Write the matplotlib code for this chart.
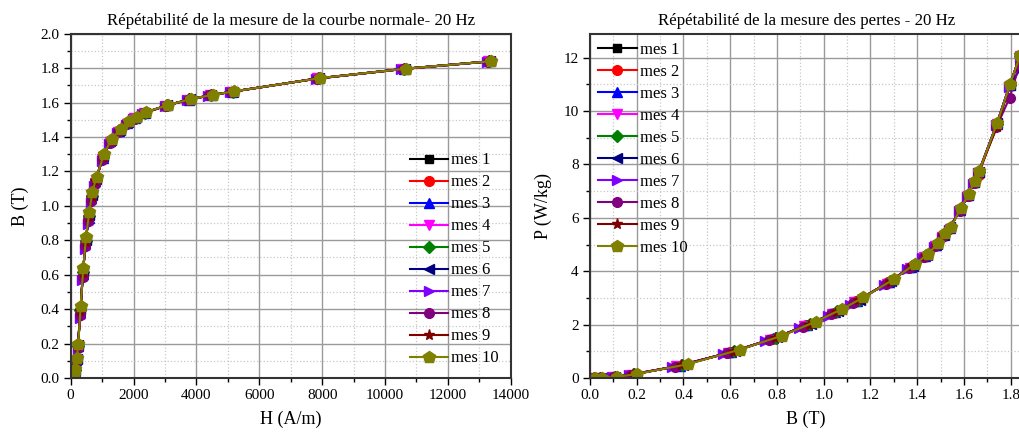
import matplotlib
matplotlib.use("Agg")
import matplotlib.pyplot as plt
from matplotlib.ticker import MultipleLocator

plt.rcParams['font.family'] = ['Liberation Serif', 'DejaVu Serif']

labels = ["mes 1", "mes 2", "mes 3", "mes 4", "mes 5",
          "mes 6", "mes 7", "mes 8", "mes 9", "mes 10"]

# H (A/m) for each measurement
h_mes = [
    [96, 126, 179, 228, 303, 385, 466, 560, 655, 771, 1011, 1249, 1511, 1786, 2035, 2327, 3028, 3743, 4430, 5113, 7852, 10578, 13287],
    [97, 127, 180, 229, 304, 387, 468, 564, 658, 777, 1017, 1255, 1520, 1794, 2045, 2335, 3037, 3751, 4440, 5123, 7861, 10588, 13297],
    [97, 128, 181, 231, 306, 389, 470, 567, 662, 783, 1022, 1261, 1529, 1802, 2054, 2342, 3045, 3759, 4449, 5134, 7870, 10598, 13306],
    [96, 125, 178, 226, 301, 383, 463, 556, 651, 765, 1006, 1243, 1502, 1779, 2026, 2319, 3019, 3734, 4420, 5103, 7843, 10568, 13278],
    [98, 131, 184, 234, 309, 392, 475, 575, 669, 795, 1033, 1273, 1546, 1817, 2073, 2358, 3063, 3776, 4469, 5154, 7888, 10618, 13325],
    [98, 132, 185, 236, 311, 394, 478, 578, 673, 801, 1038, 1280, 1555, 1825, 2082, 2365, 3071, 3784, 4479, 5165, 7897, 10628, 13334],
    [94, 120, 173, 219, 294, 375, 454, 542, 636, 740, 984, 1217, 1465, 1745, 1988, 2284, 2985, 3692, 4378, 5068, 7790, 10519, 13246],
    [96, 123, 176, 224, 299, 381, 461, 553, 647, 759, 1001, 1237, 1493, 1771, 2016, 2312, 3011, 3726, 4410, 5092, 7835, 10559, 13268],
    [98, 130, 183, 233, 308, 391, 473, 571, 666, 789, 1028, 1267, 1537, 1810, 2063, 2350, 3054, 3768, 4459, 5144, 7879, 10608, 13315],
    [100, 137, 190, 243, 318, 402, 487, 593, 688, 826, 1060, 1304, 1590, 1856, 2120, 2396, 3106, 3818, 4518, 5206, 7932, 10668, 13372],
]

# B (T) for each measurement
b_mes = [
    [0.016, 0.041, 0.101, 0.178, 0.375, 0.595, 0.775, 0.920, 1.040, 1.134, 1.273, 1.370, 1.431, 1.479, 1.509, 1.538, 1.582, 1.616, 1.642, 1.662, 1.740, 1.795, 1.839],
    [0.016, 0.042, 0.102, 0.180, 0.380, 0.600, 0.780, 0.925, 1.044, 1.138, 1.276, 1.372, 1.433, 1.480, 1.510, 1.539, 1.582, 1.617, 1.642, 1.663, 1.740, 1.795, 1.839],
    [0.017, 0.043, 0.104, 0.183, 0.385, 0.605, 0.785, 0.930, 1.049, 1.142, 1.279, 1.374, 1.435, 1.481, 1.511, 1.540, 1.583, 1.617, 1.643, 1.663, 1.740, 1.796, 1.839],
    [0.015, 0.040, 0.099, 0.175, 0.370, 0.590, 0.770, 0.915, 1.035, 1.130, 1.270, 1.368, 1.430, 1.478, 1.508, 1.538, 1.581, 1.616, 1.642, 1.662, 1.740, 1.795, 1.839],
    [0.018, 0.045, 0.107, 0.188, 0.395, 0.615, 0.795, 0.940, 1.058, 1.150, 1.285, 1.379, 1.438, 1.484, 1.513, 1.541, 1.584, 1.618, 1.643, 1.664, 1.741, 1.796, 1.839],
    [0.018, 0.046, 0.108, 0.190, 0.400, 0.620, 0.800, 0.945, 1.062, 1.154, 1.288, 1.381, 1.440, 1.485, 1.514, 1.542, 1.584, 1.618, 1.644, 1.664, 1.741, 1.796, 1.839],
    [0.013, 0.036, 0.093, 0.165, 0.350, 0.570, 0.750, 0.895, 1.017, 1.114, 1.258, 1.358, 1.422, 1.472, 1.504, 1.534, 1.579, 1.614, 1.640, 1.661, 1.738, 1.794, 1.838],
    [0.015, 0.039, 0.098, 0.173, 0.365, 0.585, 0.765, 0.910, 1.031, 1.126, 1.267, 1.365, 1.428, 1.476, 1.507, 1.537, 1.581, 1.616, 1.641, 1.662, 1.739, 1.795, 1.838],
    [0.017, 0.044, 0.105, 0.185, 0.390, 0.610, 0.790, 0.935, 1.053, 1.146, 1.282, 1.377, 1.437, 1.483, 1.512, 1.541, 1.583, 1.618, 1.643, 1.663, 1.741, 1.796, 1.839],
    [0.020, 0.050, 0.114, 0.200, 0.420, 0.640, 0.820, 0.965, 1.080, 1.170, 1.300, 1.390, 1.447, 1.490, 1.518, 1.545, 1.586, 1.620, 1.645, 1.665, 1.742, 1.797, 1.840],
]

# P (W/kg) for each measurement
p_mes = [
    [0.00, 0.01, 0.03, 0.13, 0.44, 0.95, 1.45, 1.95, 2.42, 2.85, 3.56, 4.14, 4.54, 4.96, 5.31, 5.61, 6.29, 6.82, 7.32, 7.70, 9.51, 10.95, 12.06],
    [0.00, 0.01, 0.03, 0.13, 0.45, 0.96, 1.46, 1.97, 2.44, 2.87, 3.58, 4.16, 4.56, 4.98, 5.32, 5.61, 6.30, 6.83, 7.32, 7.62, 9.51, 10.96, 12.06],
    [0.00, 0.01, 0.04, 0.13, 0.46, 0.97, 1.48, 1.98, 2.46, 2.89, 3.59, 4.17, 4.57, 4.99, 5.34, 5.62, 6.30, 6.84, 7.33, 7.71, 9.52, 10.96, 11.95],
    [0.00, 0.01, 0.03, 0.13, 0.44, 0.94, 1.44, 1.93, 2.40, 2.83, 3.54, 4.13, 4.53, 4.95, 5.30, 5.60, 6.28, 6.82, 7.31, 7.69, 9.50, 10.95, 12.05],
    [0.00, 0.01, 0.04, 0.14, 0.48, 1.00, 1.51, 2.02, 2.50, 2.92, 3.62, 4.20, 4.59, 5.01, 5.36, 5.63, 6.32, 6.85, 7.35, 7.72, 9.53, 10.97, 12.07],
    [0.00, 0.01, 0.04, 0.14, 0.49, 1.01, 1.52, 2.04, 2.51, 2.94, 3.64, 4.21, 4.60, 5.02, 5.37, 5.64, 6.33, 6.85, 7.35, 7.73, 9.54, 10.98, 11.55],
    [0.00, 0.00, 0.03, 0.12, 0.40, 0.89, 1.38, 1.86, 2.33, 2.75, 3.48, 4.07, 4.48, 4.90, 5.25, 5.56, 6.25, 6.78, 7.28, 7.67, 9.47, 10.92, 12.04],
    [0.00, 0.01, 0.03, 0.12, 0.43, 0.92, 1.42, 1.91, 2.38, 2.81, 3.53, 4.11, 4.52, 4.94, 5.29, 5.59, 6.27, 6.81, 7.30, 7.69, 9.40, 10.50, 11.75],
    [0.00, 0.01, 0.04, 0.14, 0.47, 0.99, 1.49, 2.00, 2.48, 2.91, 3.61, 4.18, 4.58, 5.00, 5.35, 5.63, 6.31, 6.84, 7.34, 7.72, 9.40, 10.97, 12.07],
    [0.00, 0.01, 0.04, 0.15, 0.52, 1.06, 1.58, 2.11, 2.59, 3.02, 3.70, 4.27, 4.65, 5.07, 5.42, 5.67, 6.36, 6.88, 7.38, 7.75, 9.56, 11.00, 12.09],
]

colors = ["#000000", "#ff0000", "#0000ff", "#ff00ff", "#008000",
          "#000080", "#8000ff", "#800080", "#800000", "#808000"]
markers = ["s", "o", "^", "v", "D", "<", ">", "o", "*", "p"]
msizes = [6, 7, 7, 7, 6, 7, 7, 7, 8, 9]

fig = plt.figure(figsize=(10.2, 4.32), dpi=100)
ax1 = fig.add_axes([0.0693, 0.125, 0.4314, 0.797])
ax2 = fig.add_axes([0.5784, 0.125, 0.4240, 0.797])


def style(ax):
    ax.grid(True, which="major", color="#9a9a9a", linestyle="-", linewidth=1.0)
    ax.grid(True, which="minor", color="#c8c8c8", linestyle=":", linewidth=0.9)
    ax.set_axisbelow(True)
    for s in ax.spines.values():
        s.set_linewidth(1.5)
        s.set_color("#333333")
    ax.tick_params(which="major", direction="out", length=5, width=1.0, labelsize=11, pad=3)
    ax.tick_params(which="minor", direction="out", length=3, width=1.0)


for i in range(10):
    ax1.plot(h_mes[i], b_mes[i], color=colors[i], marker=markers[i], ms=msizes[i],
             lw=1.5, label=labels[i])
    ax2.plot(b_mes[i], p_mes[i], color=colors[i], marker=markers[i], ms=msizes[i],
             lw=1.5, label=labels[i])

ax1.set_xlim(0, 14000)
ax1.set_ylim(0, 2.0)
ax1.xaxis.set_major_locator(MultipleLocator(2000))
ax1.xaxis.set_minor_locator(MultipleLocator(1000))
ax1.yaxis.set_major_locator(MultipleLocator(0.2))
ax1.yaxis.set_minor_locator(MultipleLocator(0.1))
ax1.yaxis.set_major_formatter(plt.FormatStrFormatter("%.1f"))
style(ax1)
ax1.set_title("Répétabilité de la mesure de la courbe normale- 20 Hz", fontsize=12.2, pad=6)
ax1.set_xlabel("H (A/m)", fontsize=13, labelpad=6)
ax1.set_ylabel("B (T)", fontsize=13, labelpad=8)
ax1.legend(loc="lower right", frameon=False, fontsize=12, handlelength=2.3,
           labelspacing=0.36, handletextpad=0.2, borderaxespad=0.3,
           bbox_to_anchor=(1.0, 0.0))

ax2.set_xlim(0, 1.85)
ax2.set_ylim(0, 12.9)
ax2.xaxis.set_major_locator(MultipleLocator(0.2))
ax2.xaxis.set_minor_locator(MultipleLocator(0.1))
ax2.yaxis.set_major_locator(MultipleLocator(2))
ax2.yaxis.set_minor_locator(MultipleLocator(1))
ax2.xaxis.set_major_formatter(plt.FormatStrFormatter("%.1f"))
style(ax2)
ax2.set_title("Répétabilité de la mesure des pertes - 20 Hz", fontsize=12.2, pad=6)
ax2.set_xlabel("B (T)", fontsize=13, labelpad=6)
ax2.set_ylabel("P (W/kg)", fontsize=13, labelpad=8)
ax2.legend(loc="upper left", frameon=False, fontsize=12, handlelength=2.3,
           labelspacing=0.36, handletextpad=0.2, borderaxespad=0.1)

fig.savefig("out.png", dpi=100)
